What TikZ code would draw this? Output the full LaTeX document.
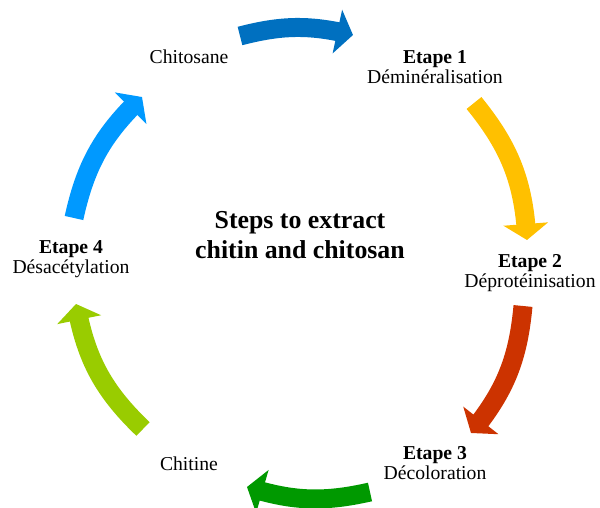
\documentclass[tikz,border=0pt]{standalone}
\usepackage{fontspec}
\setmainfont{Liberation Serif}
\usepackage{tikz}
\usetikzlibrary{arrows.meta, positioning, bending}

\definecolor{bleu}{HTML}{0070C0}
\definecolor{jaune}{HTML}{FFC000}
\definecolor{rouge}{HTML}{CC3300}
\definecolor{vert}{HTML}{009900}
\definecolor{vertclair}{HTML}{99CC00}
\definecolor{bleuclair}{HTML}{0099FF}

\begin{document}
\begin{tikzpicture}[x=0.02cm, y=0.02cm,
    >={Triangle[width=0.88cm, length=0.32cm]},
    cyc/.style={->, line width=0.38cm},
    lbl/.style={align=center, inner sep=0pt, font=\fontsize{11.2}{11.4}\selectfont}]

        \useasboundingbox (0, 0) rectangle (600, 508);

        %\draw[help lines] (0, 0) grid[step=50] (600, 508);

        \node[lbl] (chitosane) at (189, 451) {Chitosane};
        \node[lbl] (etape1) at (435, 441) {\textbf{Etape 1}\\Déminéralisation};
        \node[lbl] (etape2) at (530, 235) {\textbf{Etape 2}\\Déprotéinisation};
        \node[lbl] (etape3) at (435, 45) {\textbf{Etape 3}\\Décoloration};
        \node[lbl] (chitine) at (189, 44) {Chitine};
        \node[lbl] (etape4) at (71, 249) {\textbf{Etape 4}\\Désacétylation};

        \node[align=center, inner sep=0pt, font=\bfseries\fontsize{14.7}{16.8}\selectfont] (titre) at (300, 273) {Steps to extract\\chitin and chitosan};

        \coordinate (a1) at (240, 472);
        \coordinate (b1) at (353, 473);
        \coordinate (a2) at (474, 405);
        \coordinate (b2) at (527, 268);
        \coordinate (a3) at (523, 202);
        \coordinate (b3) at (471, 75);
        \coordinate (a4) at (370, 16);
        \coordinate (b4) at (247, 21);
        \coordinate (a5) at (143, 79);
        \coordinate (b5) at (76, 204);
        \coordinate (a6) at (74, 290);
        \coordinate (b6) at (142, 411);

        \draw[cyc, bleu] (a1) to[bend left=14] (b1);
        \draw[cyc, jaune] (a2) to[bend left=18] (b2);
        \draw[cyc, rouge] (a3) to[bend left=17] (b3);
        \draw[cyc, vert] (a4) to[bend left=15] (b4);
        \draw[cyc, vertclair] (a5) to[bend left=18] (b5);
        \draw[cyc, bleuclair] (a6) to[bend left=17] (b6);
      \end{tikzpicture}
\end{document}
